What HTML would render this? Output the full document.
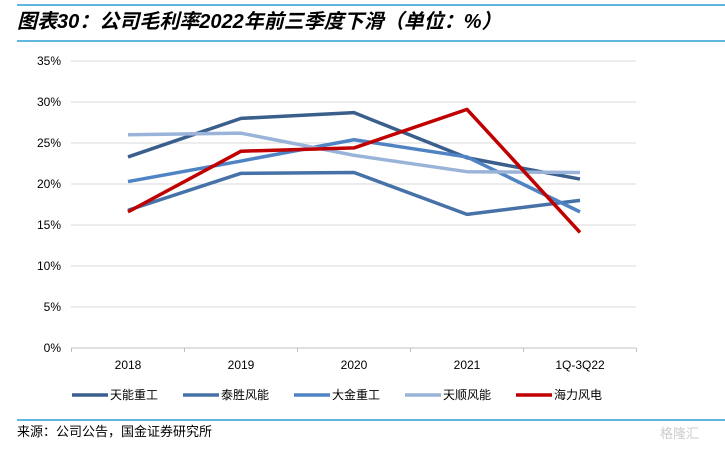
<!DOCTYPE html>
<html><head><meta charset="utf-8"><style>
body{margin:0;background:#fff;width:725px;height:448px;overflow:hidden;font-family:"Liberation Sans","Noto Sans CJK SC",sans-serif;}
</style></head><body>
<svg width="725" height="448">
<line x1="17" y1="5" x2="725" y2="5" stroke="#2a9fd6" stroke-width="1.5"/>
<text x="17" y="28" font-size="20" font-style="italic" font-weight="bold" fill="#000" font-family="'Liberation Sans','Noto Sans CJK SC',sans-serif">图表30：公司毛利率2022年前三季度下滑（单位：%）</text>
<line x1="17" y1="41" x2="725" y2="41" stroke="#2a9fd6" stroke-width="1.5"/>
<g id="axes"></g><g id="series"></g><g id="legend"></g>
<line x1="17" y1="420" x2="725" y2="420" stroke="#2a9fd6" stroke-width="1.5"/>
<text x="17" y="436" font-size="13" fill="#000">来源：公司公告，国金证券研究所</text>
<text x="660" y="438" font-size="13" fill="#ccc">格隆汇</text>
</svg>
<script>
const categories=["2018","2019","2020","2021","1Q-3Q22"];
const yTicks=[0,5,10,15,20,25,30,35];
const seriesNames=["天能重工","泰胜风能","大金重工","天顺风能","海力风电"];
const tianneng=[23.3,28.0,28.7,23.2,20.6];
const taisheng=[16.8,21.3,21.4,16.3,18.0];
const dajin=[20.3,22.8,25.4,23.3,16.6];
const tianshun=[26.0,26.2,23.5,21.5,21.4];
const haili=[16.6,24.0,24.4,29.1,14.1];
const colors=["#3b5f8d","#4672a8","#4f83c4","#9ab3d8","#c00000"];
const NS="http://www.w3.org/2000/svg";
const x=i=>128+i*113;
const y=v=>348-v*287/35;
function mk(tag,attrs,parent){const e=document.createElementNS(NS,tag);for(const k in attrs)e.setAttribute(k,attrs[k]);parent.appendChild(e);return e;}
const axes=document.getElementById('axes');
yTicks.forEach(t=>{
if(t>0){const g=mk('line',{x1:71,y1:y(t),x2:636,y2:y(t),stroke:'#d9d9d9'},axes);

}
const e=mk('text',{x:61,y:y(t)+4,'text-anchor':'end','font-size':12,fill:'#000'},axes);e.textContent=t+'%';

});
const ax=mk('line',{x1:71,y1:348,x2:636,y2:348,stroke:'#bfbfbf'},axes);


for(let i=0;i<=categories.length;i++){const tk=mk('line',{x1:x(i)-56.5,y1:348,x2:x(i)-56.5,y2:352,stroke:'#bfbfbf'},axes);

}
categories.forEach((c,i)=>{const e=mk('text',{x:x(i),y:369,'text-anchor':'middle','font-size':12,fill:'#000'},axes);e.textContent=c;

});
const data=[tianneng,taisheng,dajin,tianshun,haili];
const sg=document.getElementById('series');
data.forEach((d,s)=>{const p=mk('polyline',{points:d.map((v,i)=>x(i)+','+y(v)).join(' '),fill:'none',stroke:colors[s],'stroke-width':3.5,'stroke-linejoin':'round'},sg);

});
const lg=document.getElementById('legend');
const lx=[72,183,294,405,516];
seriesNames.forEach((n,s)=>{const g=mk('g',{},lg);


mk('line',{x1:lx[s],y1:395,x2:lx[s]+36,y2:395,stroke:colors[s],'stroke-width':3.5},g);
const t=mk('text',{x:lx[s]+38,y:399,'font-size':12,fill:'#000'},g);t.textContent=n;});
</script>
</body></html>
